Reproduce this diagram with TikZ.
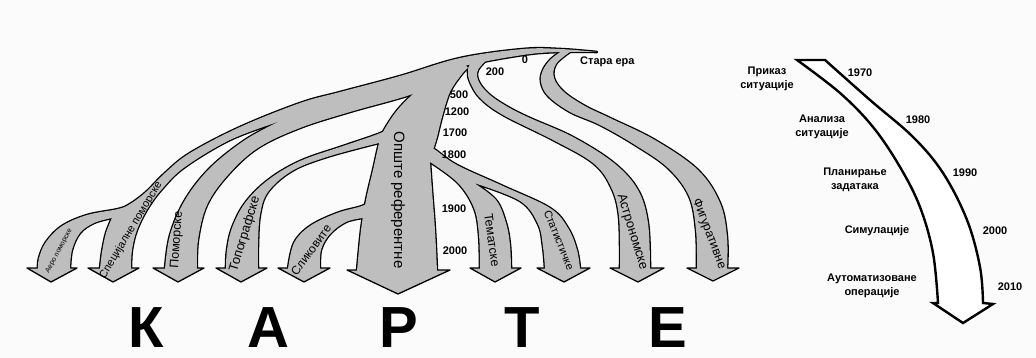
\documentclass[tikz,border=0pt]{standalone}
\usepackage{fontspec}
\setmainfont{Liberation Sans}
\definecolor{arrowgray}{RGB}{190,190,190}
\definecolor{bgcol}{RGB}{251,251,251}
\tikzset{
  yr/.style={font=\fontsize{11}{13}\selectfont\bfseries, inner sep=0pt},
  tl/.style={font=\fontsize{11}{14}\selectfont\bfseries, align=center, inner sep=0pt},
  al/.style={font=\fontsize{#1}{#1}\selectfont, inner sep=0pt},
  bigl/.style={font=\fontsize{58}{58}\selectfont\bfseries, inner sep=0pt},
  outl/.style={draw=black, line width=1.3pt, line join=round},
}
\newcommand\treeshapes[1]{%
% outer band + Specijalne + Aero
\path[#1] plot[smooth,tension=.6] coordinates {(597,52) (560,49) (523,49) (460,58) (400,76) (340,92) (300,103) (240,127) (190,153) (165,173) (146,192) (130,204) (118,209) (87,215) (62,226) (46,242) (39,258) (38,269)}
 -- (70,269)
 -- plot[smooth,tension=.6] coordinates {(70,269) (72,250) (80,233) (94,223) (112,218)}
 -- plot[smooth,tension=.6] coordinates {(112,218) (106,233) (102,252) (100,269)}
 -- (131,269)
 -- plot[smooth,tension=.6] coordinates {(131,269) (132,250) (137,230) (148,208) (163,188) (185,167) (230,140) (278,122)}
 -- plot[smooth,tension=.6] coordinates {(278,122) (330,106) (400,86) (460,67) (523,55) (560,52) (597,52)} -- cycle;
% Pomorske
\path[#1] plot[smooth,tension=.6] coordinates {(455,65) (400,81) (340,97) (300,111) (278,122)}
 -- plot[smooth,tension=.6] coordinates {(278,122) (245,140) (210,168) (185,200) (170,235) (165,269)}
 -- (197,269)
 -- plot[smooth,tension=.6] coordinates {(197,269) (198,240) (207,205) (228,175) (258,148) (300,128) (350,112) (410,95) (445,80) (458,70)} -- cycle;
% trunk
\path[#1] plot[smooth,tension=.6] coordinates {(455,62) (443,72) (420,88) (400,107) (387,125) (380,140) (373,170) (366,200) (361,230) (357,271)}
 -- (437,271)
 -- plot[smooth,tension=.6] coordinates {(437,271) (435,230) (432,190) (430,162)}
 -- (433,150)
 -- plot[smooth,tension=.6] coordinates {(433,150) (437,137) (442,117) (450,92) (462,74) (468,68)}
 -- (462,60) -- cycle;
% Topografske
\path[#1] plot[smooth,tension=.6] coordinates {(392,127) (378,134) (343,146) (300,161) (268,180) (245,203) (232,228) (227,250) (226,269)}
 -- (258,269)
 -- plot[smooth,tension=.6] coordinates {(258,269) (258,245) (260,215) (268,192) (292,171) (327,157) (379,143)}
 -- (390,140) -- cycle;
% Slikovite
\path[#1] plot[smooth,tension=.6] coordinates {(372,200) (362,206) (337,213) (310,226) (294,243) (288,269)}
 -- (320,269)
 -- plot[smooth,tension=.6] coordinates {(320,269) (321,250) (330,234) (346,222) (363,218)}
 -- (372,212) -- cycle;
% Tematske + Statisticke
\path[#1] plot[smooth,tension=.6] coordinates {(425,146) (434,149) (457,165) (503,186) (550,208) (568,228) (577,250) (580,269)}
 -- (545,269)
 -- plot[smooth,tension=.6] coordinates {(545,269) (543,247) (538,224) (520,201) (474,183)}
 -- plot[smooth,tension=.6] coordinates {(474,183) (496,200) (506,223) (510,245) (511,269)}
 -- (480,269)
 -- plot[smooth,tension=.6] coordinates {(480,269) (479,235) (474,208) (458,183) (430,162)}
 -- (424,155) -- cycle;
% Astronomske
\path[#1] plot[smooth,tension=.6] coordinates {(480,58) (470,64) (468,72) (470,82) (480,98) (503,115) (553,140) (593,163) (611,187) (619,217) (620,269)}
 -- (650,269)
 -- plot[smooth,tension=.6] coordinates {(650,269) (648,223) (638,190) (614,163) (573,137) (530,118) (508,107) (490,95) (479,82) (478,70) (490,57)} -- cycle;
% Figurativne
\path[#1] plot[smooth,tension=.6] coordinates {(562,51) (551,59) (543,70) (541,82) (548,96) (570,112) (600,125) (635,145) (668,168) (689,196) (696,230) (697,269)}
 -- (727,269)
 -- plot[smooth,tension=.6] coordinates {(727,269) (727,237) (720,203) (698,170) (655,140) (610,118) (585,106) (564,92) (554,78) (556,64) (570,52)} -- cycle;
}
% arrow head: shaftL shaftR headL headR shoulderY tipX tipY
\newcommand\ahead[7]{%
  \fill[arrowgray] (#1,#5) -- (#3,#5) -- (#6,#7) -- (#4,#5) -- (#2,#5) -- cycle;
  \draw[outl] (#1,#5) -- (#3,#5) -- (#6,#7) -- (#4,#5) -- (#2,#5);
}
\begin{document}
\begin{tikzpicture}[x=1pt,y=-1pt]
\useasboundingbox (0,0) rectangle (1036,358);
\fill[bgcol] (0,0) rectangle (1036,358);
% pass 1: outlines
\treeshapes{draw=black,line width=2.6pt,line join=round}
% heads
\ahead{38}{70}{27}{77}{268}{51}{282}
\ahead{100}{131}{88}{139}{268}{113}{282}
\ahead{165}{197}{153}{204}{268}{178}{282}
\ahead{226}{258}{216}{267}{268}{241}{282}
\ahead{288}{320}{278}{330}{268}{304}{282}
\ahead{357}{437}{347}{450}{270}{398}{294}
\ahead{480}{511}{470}{521}{268}{495}{282}
\ahead{545}{580}{537}{590}{268}{564}{282}
\ahead{620}{650}{610}{664}{268}{638}{282}
\ahead{697}{727}{687}{739}{268}{713}{281}
% pass 2: fills
\treeshapes{fill=arrowgray}
% labels in arrows
\node[al=7, rotate=62] (aero) at (59,251) {Аеро поморске};
\node[al=11, rotate=59] (spec) at (131,230) {Специјалне поморске};
\node[al=12.5, rotate=86] (pom) at (177,240) {Поморске};
\node[al=13, rotate=73] (topo) at (245,234) {Топографске};
\node[al=12, rotate=54] (slik) at (311,250) {Сликовите};
\node[al=15, rotate=-90] (opste) at (398,200) {Опште референтне};
\node[al=12.5, rotate=-82] (tem) at (492,240) {Тематске};
\node[al=11, rotate=-68] (stat) at (559,240) {Статистичке};
\node[al=13, rotate=-73] (astro) at (632,232) {Астрономске};
\node[al=12.5, rotate=-69] (fig) at (709,234) {Фигуративне};
% years
\node[yr] (y0) at (525,60) {0};
\node[yr] (y200) at (495,72) {200};
\node[yr] (y500) at (459,95) {500};
\node[yr] (y1200) at (457,112) {1200};
\node[yr] (y1700) at (455,133) {1700};
\node[yr] (y1800) at (454,155) {1800};
\node[yr] (y1900) at (454,209) {1900};
\node[yr] (y2000) at (455,251) {2000};
\node[yr, anchor=west] (era) at (580,62) {Стара ера};
% big letters
\node[bigl] (k1) at (146,328) {К};
\node[bigl] (k2) at (268,328) {А};
\node[bigl] (k3) at (399,328) {Р};
\node[bigl] (k4) at (522,328) {Т};
\node[bigl] (k5) at (668,328) {Е};
% timeline arrow
\draw[fill=white, line width=2.4pt, line join=miter] (797,60) -- (825,60)
 -- plot[smooth,tension=.6] coordinates {(825,60) (870,100) (913,137) (943,173) (967,220) (980,267) (983,303)}
 -- (993,304) -- (963,323) -- (933,303) -- (938,303)
 -- plot[smooth,tension=.6] coordinates {(938,303) (933,253) (920,207) (900,167) (873,127) (840,93) (797,60)} -- cycle;
\node[tl] (t1) at (767,79) {Приказ\\ситуације};
\node[tl] (t2) at (822,127) {Анализа\\ситуације};
\node[tl] (t3) at (855,180) {Планирање\\задатака};
\node[tl] (t4) at (877,231) {Симулације};
\node[tl] (t5) at (872,286) {Аутоматизоване\\операције};
\node[yr] (d1) at (860,73) {1970};
\node[yr] (d2) at (918,120) {1980};
\node[yr] (d3) at (965,173) {1990};
\node[yr] (d4) at (995,231) {2000};
\node[yr] (d5) at (1010,287) {2010};
\end{tikzpicture}
\end{document}
